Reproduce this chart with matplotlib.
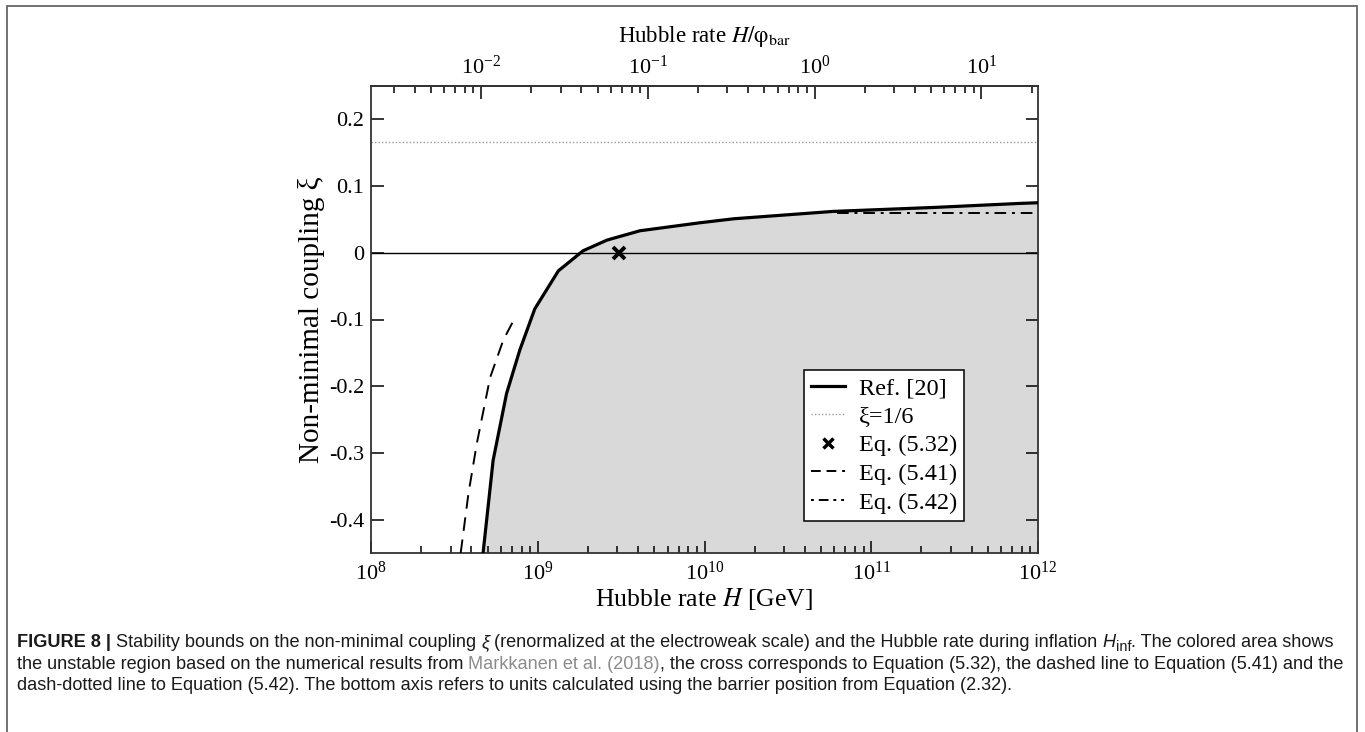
import numpy as np
import matplotlib
matplotlib.use("Agg")
import matplotlib.pyplot as plt
import matplotlib.ticker as mtick
from matplotlib.lines import Line2D
from matplotlib.patches import Rectangle

plt.rcParams['font.family'] = ['Liberation Serif', 'DejaVu Serif']
plt.rcParams['mathtext.fontset'] = 'stix'
plt.rcParams['axes.unicode_minus'] = False

# Ref. [20] boundary of unstable region
H_ref = [4.7e8, 5.4e8, 6.5e8, 7.8e8, 9.6e8, 1.33e9, 1.87e9, 2.6e9, 4.1e9, 9.4e9,
         1.5e10, 5.9e10, 2.4e11, 7.8e11, 1e12]
xi_ref = [-0.45, -0.311, -0.211, -0.146, -0.084, -0.027, 0.003, 0.019, 0.033, 0.045,
          0.051, 0.062, 0.068, 0.074, 0.075]
# Eq. (5.41)
H_541 = [3.45e8, 3.84e8, 4.31e8, 5.18e8, 6.21e8, 7.21e8]
xi_541 = [-0.45, -0.361, -0.286, -0.187, -0.131, -0.100]
# Eq. (5.42)
H_542 = [6.2e10, 1e12]
xi_542 = [0.060, 0.060]
# Eq. (5.32)
H_532 = [3.07e9]
xi_532 = [0.0]
xi_conf = 1 / 6
phi_bar = 10 ** 10.66  # GeV, barrier position

y_ticks = [-0.4, -0.3, -0.2, -0.1, 0, 0.1, 0.2]
y_labels = ['-0.4', '-0.3', '-0.2', '-0.1', '0', '0.1', '0.2']

fig = plt.figure(figsize=(13.65, 7.32), dpi=100)
ax = fig.add_axes([371 / 1365, 1 - 553 / 732, 667 / 1365, 467 / 732])

ax.fill_between(H_ref, xi_ref, -0.45, color='#d9d9d9', lw=0, zorder=1)
ax.axhline(0, color='black', lw=1.0, zorder=2)
ax.axhline(xi_conf, color='#9a9a9a', lw=1.0, ls=(0, (1, 1.5)), zorder=2)
ax.plot(H_ref, xi_ref, color='black', lw=2.3, zorder=4)
ax.plot(H_541, xi_541, color='black', lw=1.4, dashes=(7, 4.5), zorder=3)
ax.plot(H_542, xi_542, color='black', lw=1.4, dashes=(6, 3, 1.5, 3), zorder=3)
ax.plot(H_532, xi_532, ls='none', marker='x', color='black', ms=9, mew=2.8, zorder=5)

ax.set_xscale('log')
ax.set_xlim(1e8, 1e12)
ax.set_ylim(-0.45, 0.25)
ax.set_yticks(y_ticks)
ax.set_yticklabels(y_labels)
ax.xaxis.set_major_locator(mtick.LogLocator(base=10, numticks=10))
ax.xaxis.set_minor_locator(mtick.LogLocator(base=10, subs=np.arange(2, 10), numticks=50))
ax.xaxis.set_minor_formatter(mtick.NullFormatter())

ax.tick_params(which='both', direction='in', top=False, right=True, labelsize=16, width=1.1)
ax.tick_params(axis='y', which='major', length=9, pad=5)
ax.tick_params(axis='x', which='major', length=9, pad=6)
ax.tick_params(axis='x', which='minor', length=5)
for s in ax.spines.values():
    s.set_linewidth(1.3)
    s.set_color('#333333')

ax.set_xlabel('Hubble rate $H$ [GeV]', fontsize=18.5, labelpad=1)
ax.set_ylabel('Non-minimal coupling ξ', fontsize=21, labelpad=3)

sec = ax.secondary_xaxis('top', functions=(lambda x: x / phi_bar, lambda x: x * phi_bar))
sec.xaxis.set_major_locator(mtick.LogLocator(base=10, numticks=10))
sec.xaxis.set_minor_locator(mtick.LogLocator(base=10, subs=np.arange(2, 10), numticks=50))
sec.xaxis.set_minor_formatter(mtick.NullFormatter())
sec.tick_params(which='both', direction='in', labelsize=16, width=1.1)
sec.tick_params(which='major', length=9, pad=5)
sec.tick_params(which='minor', length=5)
sec.spines['top'].set_linewidth(1.3)
sec.spines['top'].set_color('#333333')
sec.set_xlabel(r'Hubble rate $H/\mathrm{\varphi}_{\mathrm{bar}}$', fontsize=16.5, labelpad=10)

handles = [
    Line2D([], [], color='black', lw=2.3),
    Line2D([], [], color='#9a9a9a', lw=1.0, ls=(0, (1, 1.5))),
    Line2D([], [], ls='none', marker='x', color='black', ms=7, mew=2.5),
    Line2D([], [], color='black', lw=1.4, dashes=(5, 3)),
    Line2D([], [], color='black', lw=1.4, dashes=(1.5, 2.5, 5, 2.5, 1.5, 2.5)),
]
labels = ['Ref. [20]', 'ξ=1/6', 'Eq. (5.32)', 'Eq. (5.41)', 'Eq. (5.42)']
leg = ax.legend(handles, labels, loc='upper left', bbox_to_anchor=(0.649, 0.392),
                borderaxespad=0, fontsize=17.5, handlelength=1.4, handletextpad=0.55,
                labelspacing=0.27, borderpad=0.3, fancybox=False, framealpha=1,
                edgecolor='black')
leg.get_frame().set_linewidth(1.1)

# figure frame
fig.add_artist(Rectangle((7 / 1365, -0.05), 1350 / 1365, 1.05 - 6 / 732,
                         transform=fig.transFigure, fill=False,
                         edgecolor='#666666', lw=1.3))

# caption
renderer = fig.canvas.get_renderer()
cap_size = 13.1


def caption_line(pieces, y):
    x = 17
    for txt, kw in pieces:
        kw = dict(kw)
        dy = kw.pop('dy', 0)
        kw.setdefault('color', '#1a1a1a')
        t = fig.text(x / 1365, (732 - y - dy) / 732, txt, va='baseline', ha='left',
                     family='Liberation Sans', **kw)
        x += t.get_window_extent(renderer).width


caption_line([('FIGURE 8 |', dict(size=cap_size, weight='bold')),
              (' Stability bounds on the non-minimal coupling ', dict(size=cap_size)),
              ('ξ', dict(size=cap_size, style='italic')),
              (' (renormalized at the electroweak scale) and the Hubble rate during inflation ',
               dict(size=cap_size)),
              ('H', dict(size=cap_size, style='italic')),
              ('inf', dict(size=cap_size * 0.8, dy=4)),
              ('. The colored area shows', dict(size=cap_size))], 647)
caption_line([('the unstable region based on the numerical results from ', dict(size=cap_size)),
              ('Markkanen et al. (2018)', dict(size=cap_size, color='#8c8c8c')),
              (', the cross corresponds to Equation (5.32), the dashed line to Equation (5.41) and the',
               dict(size=cap_size))], 669)
caption_line([('dash-dotted line to Equation (5.42). The bottom axis refers to units calculated '
               'using the barrier position from Equation (2.32).', dict(size=cap_size))], 690)

fig.savefig('out.png', dpi=100)
